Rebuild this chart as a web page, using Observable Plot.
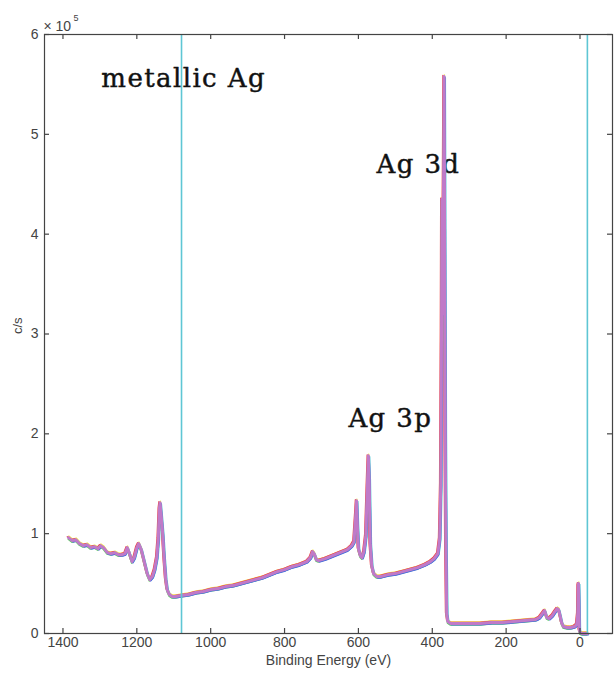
<!DOCTYPE html>
<html>
<head>
<meta charset="utf-8">
<script src="https://cdn.jsdelivr.net/npm/d3@7"></script>
<script src="https://cdn.jsdelivr.net/npm/@observablehq/plot@0.6"></script>
<style>
  html, body { margin: 0; padding: 0; background: #fff; }
  #chart svg { display: block; }
</style>
</head>
<body>
<div id="chart"></div>
<script>
// Binding energy (eV) and intensity (c/s, in units of 10^5)
const energy = [1385,1375,1365,1355,1345,1335,1325,1315,1305,1298,1290,1280,1270,1260,1250,1240,1232,1226,1220,1213,1207,1200,1195,1188,1180,1172,1165,1158,1152,1146,1142,1139,1137,1134,1130,1126,1122,1118,1112,1104,1095,1080,1060,1040,1020,1000,980,960,940,920,900,880,860,840,820,800,780,760,740,730,724,720,714,708,690,670,650,630,618,612,607,605,603,600,595,590,585,580,576,573,571,568,564,559,550,540,520,500,480,460,440,420,405,395,385,380,377,375,374,372,369,368,367,365,363,361,358,350,330,300,270,240,210,180,150,120,110,100,96,90,84,75,68,62,58,54,50,45,35,25,15,9,6,5,4,3,2,0,-5,-20];
const counts = [0.96,0.93,0.94,0.90,0.88,0.89,0.86,0.87,0.85,0.88,0.86,0.81,0.80,0.81,0.79,0.79,0.80,0.86,0.80,0.72,0.76,0.86,0.90,0.84,0.72,0.60,0.54,0.57,0.64,0.76,0.95,1.25,1.31,1.18,1.00,0.75,0.55,0.44,0.39,0.37,0.37,0.38,0.39,0.41,0.42,0.44,0.45,0.47,0.48,0.50,0.52,0.54,0.56,0.59,0.62,0.64,0.67,0.69,0.72,0.76,0.82,0.80,0.74,0.73,0.75,0.78,0.81,0.84,0.88,0.92,1.20,1.33,1.10,0.85,0.78,0.76,0.82,0.98,1.45,1.78,1.55,0.90,0.68,0.60,0.57,0.57,0.59,0.60,0.62,0.64,0.66,0.69,0.72,0.75,0.80,0.95,1.50,3.00,4.35,3.20,4.80,5.58,4.50,2.00,0.80,0.20,0.12,0.10,0.10,0.10,0.10,0.11,0.11,0.12,0.13,0.14,0.16,0.21,0.23,0.16,0.15,0.18,0.22,0.25,0.24,0.18,0.11,0.07,0.06,0.06,0.07,0.09,0.20,0.48,0.50,0.30,0.04,0.01,0.00,0.00];

const xTicks = [1400, 1200, 1000, 800, 600, 400, 200, 0];
const yTicks = [0, 1, 2, 3, 4, 5, 6];
const refLines = [1079, -20];
const annoText = ["metallic Ag", "Ag 3d", "Ag 3p"];
const annoEnergy = [1296, 551, 627];
const annoCounts = [5.56, 4.70, 2.15];

const spectrum = energy.map((e, i) => ({e, c: counts[i]}));
const annotations = annoText.map((t, i) => ({t, e: annoEnergy[i], c: annoCounts[i]}));

const W = 614, H = 677;
const mL = 44, mR = 2, mT = 34, mB = 44;
const innerW = W - mL - mR, innerH = H - mT - mB;

const halo = [
  {stroke: "#f2e34a", dx: 0.3, dy: -1.6},
  {stroke: "#ee4444", dx: -1.2, dy: -1.0},
  {stroke: "#5fd35f", dx: -0.4, dy: 1.6},
  {stroke: "#45c3d3", dx: 1.3, dy: 0.8},
  {stroke: "#4a6ae0", dx: 0.8, dy: 1.4}
];

const chart = Plot.plot({
  width: W,
  height: H,
  marginLeft: mL,
  marginRight: mR,
  marginTop: mT,
  marginBottom: mB,
  style: {fontFamily: "Liberation Sans, Arial, sans-serif", fontSize: "14px", color: "#444", background: "#fff"},
  x: {domain: [1450, -88]},
  y: {domain: [0, 6]},
  marks: [
    Plot.axisX({ticks: xTicks, tickSize: 0, tickPadding: 4, label: null, tickFormat: d => String(d)}),
    Plot.axisY({ticks: yTicks, tickSize: 0, tickPadding: 6, label: null, tickFormat: d => String(d)}),
    Plot.text(annotations, {x: "e", y: "c", text: "t", textAnchor: "start", lineAnchor: "middle",
      fontFamily: "DejaVu Serif, serif", fontSize: 26, fill: "#111", stroke: "#111", strokeWidth: 0.45}),
    ...halo.map(h => Plot.line(spectrum, {x: "e", y: "c", stroke: h.stroke, strokeWidth: 1.3, dx: h.dx, dy: h.dy})),
    Plot.line(spectrum, {x: "e", y: "c", stroke: "#c07ac8", strokeWidth: 3}),
    Plot.ruleX(refLines, {x: d => d, stroke: "#5ec6d4", strokeWidth: 1.6}),
    Plot.frame({stroke: "#444", strokeWidth: 1.2}),
    Plot.ruleX(xTicks, {x: d => d, insetTop: innerH - 5, stroke: "#444", strokeWidth: 1.2}),
    Plot.ruleX(xTicks, {x: d => d, insetBottom: innerH - 5, stroke: "#444", strokeWidth: 1.2}),
    Plot.ruleY(yTicks, {y: d => d, insetRight: innerW - 5, stroke: "#444", strokeWidth: 1.2}),
    Plot.ruleY(yTicks, {y: d => d, insetLeft: innerW - 5, stroke: "#444", strokeWidth: 1.2}),
    Plot.text(["Binding Energy (eV)"], {frameAnchor: "bottom", text: d => d, dy: 31, fill: "#444", fontSize: 14}),
    Plot.text(["c/s"], {frameAnchor: "left", text: d => d, dx: -27, rotate: -90, fill: "#444", fontSize: 13}),
    Plot.text(["× 10"], {frameAnchor: "top-left", text: d => d, textAnchor: "start", dx: -1, dy: -13, fill: "#444", fontSize: 14}),
    Plot.text(["5"], {frameAnchor: "top-left", text: d => d, textAnchor: "start", dx: 29, dy: -20, fill: "#444", fontSize: 9})
  ]
});

d3.select(chart).selectAll('g[font-family^="DejaVu Serif"]').attr("letter-spacing", "1.4");
document.getElementById("chart").appendChild(chart);
</script>
</body>
</html>
